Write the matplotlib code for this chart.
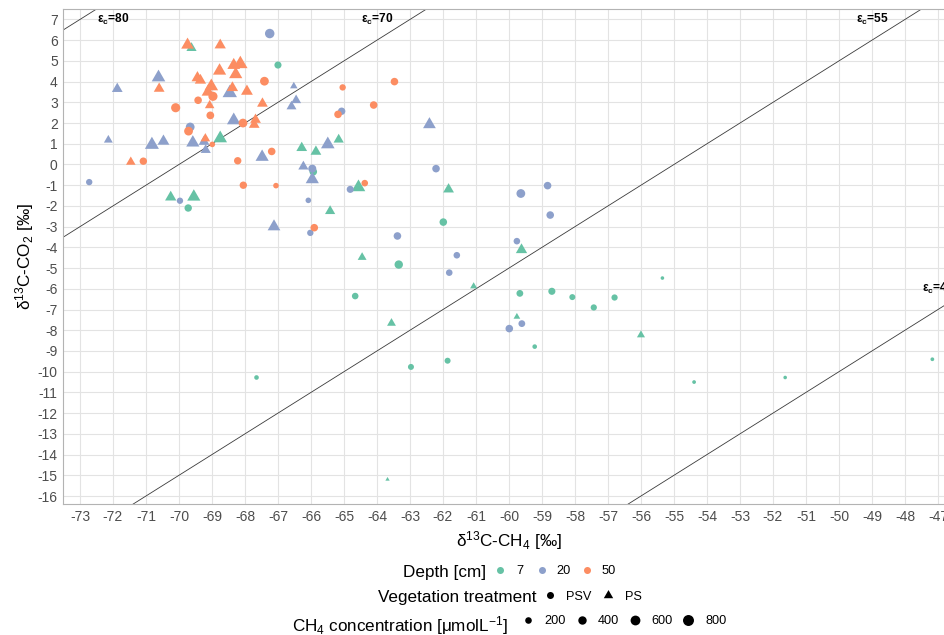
import numpy as np
import matplotlib
matplotlib.use("Agg")
import matplotlib.pyplot as plt
from matplotlib.path import Path

plt.rcParams["font.family"] = ["Liberation Sans", "DejaVu Sans"]
plt.rcParams["mathtext.fontset"] = "custom"
plt.rcParams["mathtext.rm"] = "Liberation Sans"
plt.rcParams["mathtext.it"] = "Liberation Sans:italic"
plt.rcParams["mathtext.bf"] = "Liberation Sans:bold"
plt.rcParams["axes.unicode_minus"] = False

# ---------------------------------------------------------------- data
# depth 7 cm
d7_ch4 = [-69.62, -67.00, -70.25, -69.72, -69.55, -68.75, -66.28, -65.85, -65.93, -65.16,
          -64.56, -65.42, -61.83, -61.99, -59.62, -64.45, -63.34, -61.07, -64.66, -59.67,
          -58.70, -58.08, -57.43, -56.80, -63.56, -59.76, -59.22, -61.86, -62.97, -63.68,
          -67.65, -55.35, -56.00, -54.39, -51.63, -47.17]
d7_co2 = [5.62, 4.80, -1.58, -2.10, -1.56, 1.26, 0.80, 0.62, -0.35, 1.20,
          -1.10, -2.25, -1.20, -2.78, -4.12, -4.48, -4.83, -5.88, -6.35, -6.22,
          -6.12, -6.40, -6.90, -6.42, -7.66, -7.35, -8.79, -9.47, -9.77, -15.20,
          -10.28, -5.48, -8.23, -10.50, -10.28, -9.40]
d7_veg = ["PS", "PSV", "PS", "PSV", "PS", "PS", "PS", "PS", "PSV", "PS",
          "PS", "PS", "PS", "PSV", "PS", "PS", "PSV", "PS", "PSV", "PSV",
          "PSV", "PSV", "PSV", "PSV", "PS", "PS", "PSV", "PSV", "PSV", "PS",
          "PSV", "PSV", "PS", "PSV", "PSV", "PSV"]
d7_conc = [300, 250, 400, 280, 600, 650, 350, 350, 300, 300,
           650, 300, 350, 300, 400, 200, 400, 100, 200, 220,
           250, 150, 170, 170, 200, 80, 60, 150, 150, 10,
           60, 20, 150, 25, 20, 25]

# depth 20 cm
d20_ch4 = [-72.72, -72.14, -71.87, -70.82, -70.47, -70.62, -69.97, -69.66, -69.58, -69.24,
           -69.19, -68.46, -68.34, -67.25, -67.48, -67.12, -66.52, -66.45, -66.59, -66.23,
           -65.96, -65.96, -66.08, -66.02, -65.07, -65.49, -62.41, -64.81, -63.38, -62.21,
           -59.64, -58.83, -58.75, -59.76, -61.58, -61.81, -59.61, -59.99]
d20_co2 = [-0.85, 1.18, 3.65, 0.95, 1.12, 4.20, -1.75, 1.81, 1.05, 1.10,
           0.70, 3.45, 2.13, 6.32, 0.36, -3.00, 3.78, 3.10, 2.80, -0.10,
           -0.20, -0.72, -1.73, -3.30, 2.57, 0.97, 1.93, -1.20, -3.45, -0.20,
           -1.40, -1.02, -2.44, -3.70, -4.38, -5.22, -7.68, -7.92]
d20_veg = ["PSV", "PS", "PS", "PS", "PS", "PS", "PSV", "PSV", "PS", "PS",
           "PS", "PS", "PS", "PSV", "PS", "PS", "PS", "PS", "PS", "PS",
           "PSV", "PS", "PSV", "PSV", "PSV", "PS", "PS", "PSV", "PSV", "PSV",
           "PSV", "PSV", "PSV", "PSV", "PSV", "PSV", "PSV", "PSV"]
d20_conc = [180, 200, 350, 700, 450, 650, 180, 450, 600, 350,
            300, 750, 650, 550, 600, 550, 120, 280, 280, 300,
            350, 600, 120, 180, 280, 650, 550, 250, 300, 300,
            450, 300, 300, 200, 200, 200, 220, 300]

# depth 50 cm
d50_ch4 = [-71.46, -71.08, -70.60, -70.10, -69.74, -69.71, -69.20, -68.99, -68.75, -69.44,
           -69.35, -69.02, -69.12, -68.97, -69.42, -69.07, -69.05, -68.77, -68.34, -68.14,
           -68.28, -68.38, -67.94, -67.41, -67.47, -68.06, -67.68, -67.72, -68.22, -68.05,
           -67.19, -67.06, -65.90, -65.04, -63.47, -64.10, -65.18, -64.37]
d50_co2 = [0.12, 0.16, 3.66, 2.74, 5.77, 1.61, 1.25, 0.97, 5.76, 4.18,
           4.06, 3.77, 3.50, 3.29, 3.10, 2.85, 2.37, 4.52, 4.79, 4.85,
           4.35, 3.70, 3.53, 4.02, 2.94, 2.00, 2.16, 1.92, 0.18, -1.00,
           0.63, -1.02, -3.05, 3.72, 4.00, 2.87, 2.42, -0.90]
d50_veg = ["PS", "PSV", "PS", "PSV", "PS", "PSV", "PS", "PSV", "PS", "PS",
           "PS", "PS", "PS", "PSV", "PSV", "PS", "PSV", "PS", "PS", "PS",
           "PS", "PS", "PS", "PSV", "PS", "PSV", "PS", "PS", "PSV", "PSV",
           "PSV", "PSV", "PSV", "PSV", "PSV", "PSV", "PSV", "PSV"]
d50_conc = [250, 280, 350, 500, 550, 450, 250, 120, 400, 450,
            400, 650, 550, 500, 300, 250, 320, 600, 550, 750,
            600, 400, 450, 450, 350, 450, 350, 350, 280, 280,
            300, 120, 300, 180, 300, 300, 300, 200]

depth_levels = [7, 20, 50]
depth_colors = ["#66C2A5", "#8DA0CB", "#FC8D62"]
treatments = ["PSV", "PS"]
legend_conc = [200, 400, 600, 800]

# fractionation isolines: d13C-CO2 = d13C-CH4 + eps_c
eps_c = [80, 70, 55, 40]
eps_label_pos = [(-72, 7), (-64, 7), (-49, 7), (-47, -6)]

groups = [
    (d7_ch4, d7_co2, d7_veg, d7_conc),
    (d20_ch4, d20_co2, d20_veg, d20_conc),
    (d50_ch4, d50_co2, d50_veg, d50_conc),
]

# ---------------------------------------------------------------- helpers
W, H = 944, 635
PX2PT = 72 / 100.0

# triangle with the circumcentre at the marker origin
TRI = Path([(0, 1), (-0.8660, -0.5), (0.8660, -0.5), (0, 1)],
           [Path.MOVETO, Path.LINETO, Path.LINETO, Path.CLOSEPOLY])


def diam_px(c):
    return 2.2 + 0.31 * np.sqrt(np.asarray(c, dtype=float))


def marker_area(c, shape):
    d = diam_px(c) * PX2PT
    if shape == "PS":
        d = d * 1.555
    return d ** 2


def marker_for(shape):
    return "o" if shape == "PSV" else TRI


# ---------------------------------------------------------------- figure
fig = plt.figure(figsize=(W / 100, H / 100), dpi=100)

left, right, top, bottom = 63.3, 955.0, 9.3, 504.3
ax = fig.add_axes([left / W, (H - bottom) / H, (right - left) / W, (bottom - top) / H])

xmin = -73.505
xmax = xmin + (right - left) / 33.0
ax.set_xlim(xmin, xmax)
ax.set_ylim(-16.4, 7.49)

ax.set_xticks(np.arange(-73, -46))
ax.set_yticks(np.arange(-16, 8))
ax.grid(True, color="#E3E3E3", lw=0.8)
ax.set_axisbelow(True)
for sp in ax.spines.values():
    sp.set_color("#B3B3B3")
    sp.set_linewidth(0.8)
ax.tick_params(length=0, labelsize=10, labelcolor="#4D4D4D", pad=4)

# isolines
xs = np.array([xmin, xmax])
for e in eps_c:
    ax.plot(xs, xs + e, color="#3A3A3A", lw=0.6, zorder=2)
for e, (lx, ly) in zip(eps_c, eps_label_pos):
    ax.text(lx, ly, r"$\mathbf{\varepsilon_c}$=" + str(e), fontsize=8.6,
            fontweight="bold", ha="center", va="center", color="black",
            clip_on=False, zorder=5)

# points
for (gx, gy, gv, gc), col in zip(groups, depth_colors):
    gx = np.asarray(gx)
    gy = np.asarray(gy)
    gv = np.asarray(gv)
    gc = np.asarray(gc)
    for shape in treatments:
        m = gv == shape
        if not m.any():
            continue
        ax.scatter(gx[m], gy[m], s=marker_area(gc[m], shape), marker=marker_for(shape),
                   color=col, linewidths=0, zorder=3)

# axis titles
fig.text(509 / W, 1 - 546.7 / H, "δ$^{13}$C-CH$_4$ [‰]", fontsize=12.3,
         ha="center", va="baseline", color="black")
fig.text(25 / W, 1 - 256.8 / H, "δ$^{13}$C-CO$_2$ [‰]", fontsize=12.3,
         ha="center", va="center", rotation=90, color="black")

# ---------------------------------------------------------------- legend
lax = fig.add_axes([0, 0, 1, 1], facecolor="none")
lax.set_xlim(0, W)
lax.set_ylim(H, 0)
lax.axis("off")

TITLE_FS = 12.3
LABEL_FS = 9.2

# Depth
lax.text(486, 576.7, "Depth [cm]", fontsize=TITLE_FS, ha="right", va="baseline")
for xk, xl, col, lev in zip([500, 542, 587], [516.5, 556.5, 601.5], depth_colors, depth_levels):
    lax.scatter([xk], [570], s=(7.0 * PX2PT) ** 2, marker="o", color=col, linewidths=0)
    lax.text(xl, 574.3, str(lev), fontsize=LABEL_FS, ha="left", va="baseline")

# Vegetation treatment
lax.text(537, 601.7, "Vegetation treatment", fontsize=TITLE_FS, ha="right", va="baseline")
for xk, xl, shape in zip([550, 608], [566, 625], treatments):
    area = (7.0 * PX2PT) ** 2 if shape == "PSV" else (7.0 * 1.555 * PX2PT) ** 2
    lax.scatter([xk], [595], s=area, marker=marker_for(shape), color="black", linewidths=0)
    lax.text(xl, 599.5, shape, fontsize=LABEL_FS, ha="left", va="baseline")

# CH4 concentration
lax.text(508, 631.5, "CH$_4$ concentration [μmolL$^{-1}$]", fontsize=TITLE_FS,
         ha="right", va="baseline")
for xk, xl, c in zip([528, 582, 635, 688], [544, 597.7, 651, 705], legend_conc):
    lax.scatter([xk], [620], s=marker_area(c, "PSV"), marker="o", color="black", linewidths=0)
    lax.text(xl, 624.2, str(c), fontsize=LABEL_FS, ha="left", va="baseline")

fig.savefig("out.png", dpi=100)
